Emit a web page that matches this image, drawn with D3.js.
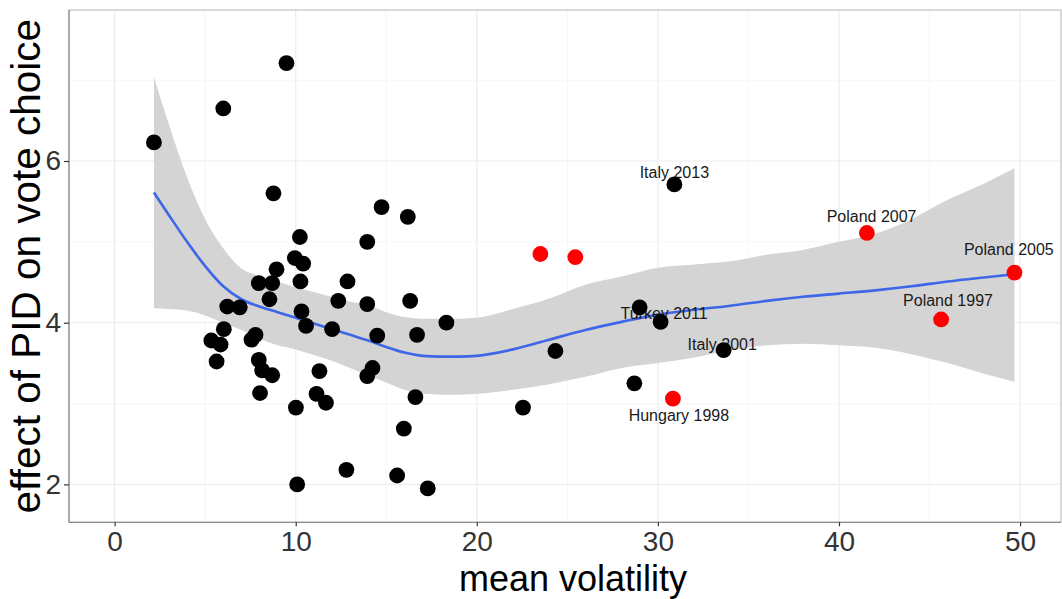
<!DOCTYPE html>
<html><head><meta charset="utf-8">
<script src="https://cdn.jsdelivr.net/npm/d3@7"></script>
<style>
body{margin:0;background:#fff}
svg{display:block}
text{font-family:"Liberation Sans",Arial,Helvetica,sans-serif}
</style>
</head><body>
<svg id="chart" width="1062" height="599"></svg>
<script>
// ---- data ----
const blackX = [2.17,6.00,9.49,8.77,14.74,16.19,10.23,13.95,9.95,10.41,8.94,7.96,8.70,10.26,12.86,8.55,12.35,13.95,16.32,6.22,6.91,10.32,10.57,12.01,18.32,6.03,14.50,16.70,7.78,7.56,5.34,5.85,5.63,7.96,8.15,8.70,11.31,14.24,13.95,8.03,11.15,11.67,10.01,16.61,15.97,12.80,15.60,10.08,17.29,30.91,28.99,30.15,24.34,33.63,28.70,22.55];
const blackY = [6.23,6.65,7.21,5.60,5.43,5.31,5.06,5.00,4.80,4.73,4.66,4.49,4.49,4.51,4.51,4.29,4.27,4.23,4.27,4.20,4.19,4.14,3.96,3.92,4.00,3.92,3.84,3.85,3.85,3.79,3.78,3.73,3.52,3.54,3.41,3.35,3.40,3.44,3.34,3.13,3.12,3.01,2.95,3.08,2.69,2.18,2.11,2.00,1.95,5.71,4.19,4.01,3.65,3.66,3.25,2.95];
const redX = [23.51,25.44,30.83,41.54,49.69,45.64];
const redY = [4.85,4.81,3.06,5.11,4.62,4.04];

const labelText = ["Italy 2013","Turkey 2011","Italy 2001","Hungary 1998","Poland 2007","Poland 2005","Poland 1997"];
const labelX = [30.91,30.34,33.55,31.16,41.80,49.38,46.02];
const labelY = [5.86,4.11,3.73,2.85,5.32,4.91,4.27];

const smoothX     = [2.17,3,4,5,6,7,8,9,10,11,12,13,14,15,16,17,18,19,20,22,24,26,28,30,32,34,36,38,40,42,44,46,48,49.69];
const smoothFit   = [5.61,5.33,5.00,4.70,4.45,4.29,4.20,4.13,4.06,3.99,3.92,3.85,3.78,3.70,3.63,3.59,3.58,3.58,3.59,3.67,3.79,3.91,4.01,4.10,4.16,4.21,4.27,4.32,4.36,4.40,4.45,4.51,4.56,4.60];
const smoothLower = [4.18,4.17,4.15,4.09,4.00,3.91,3.80,3.72,3.67,3.60,3.53,3.44,3.35,3.26,3.17,3.12,3.11,3.11,3.12,3.17,3.24,3.33,3.44,3.50,3.57,3.66,3.72,3.74,3.72,3.69,3.61,3.50,3.37,3.27];
const smoothUpper = [7.04,6.45,5.80,5.28,4.92,4.67,4.58,4.51,4.44,4.38,4.32,4.26,4.22,4.13,4.07,4.05,4.05,4.05,4.06,4.17,4.30,4.47,4.57,4.68,4.72,4.76,4.84,4.90,5.00,5.10,5.28,5.52,5.72,5.91];

const xTicks = [0,10,20,30,40,50];
const xMinor = [5,15,25,35,45];
const yTicks = [2,4,6];
const yMinor = [3,5,7];
const xTitle = "mean volatility";
const yTitle = "effect of PID on vote choice";

// ---- layout ----
const W = 1062, H = 599;
const m = {left:69, top:10, right:1, bottom:76.7};
const svg = d3.select("#chart");
const x = d3.scaleLinear().domain([-2.52, 52.26]).range([m.left, W - m.right]);
const y = d3.scaleLinear().domain([1.531, 7.868]).range([H - m.bottom, m.top]);

const g = svg.append("g");

// grid
g.selectAll(".xmin").data(xMinor).join("line")
  .attr("x1", d=>x(d)).attr("x2", d=>x(d)).attr("y1", m.top).attr("y2", H-m.bottom)
  .attr("stroke", "#f4f4f4").attr("stroke-width", 0.8);
g.selectAll(".ymin").data(yMinor).join("line")
  .attr("y1", d=>y(d)).attr("y2", d=>y(d)).attr("x1", m.left).attr("x2", W-m.right)
  .attr("stroke", "#f4f4f4").attr("stroke-width", 0.8);
g.selectAll(".xmaj").data(xTicks).join("line")
  .attr("x1", d=>x(d)).attr("x2", d=>x(d)).attr("y1", m.top).attr("y2", H-m.bottom)
  .attr("stroke", "#ececec").attr("stroke-width", 1.2);
g.selectAll(".ymaj").data(yTicks).join("line")
  .attr("y1", d=>y(d)).attr("y2", d=>y(d)).attr("x1", m.left).attr("x2", W-m.right)
  .attr("stroke", "#ececec").attr("stroke-width", 1.2);

// smooth band & line
const sm = smoothX.map((v,i)=>({x:v, fit:smoothFit[i], lo:smoothLower[i], hi:smoothUpper[i]}));
g.append("path").datum(sm)
  .attr("d", d3.area().x(d=>x(d.x)).y0(d=>y(d.lo)).y1(d=>y(d.hi)).curve(d3.curveMonotoneX))
  .attr("fill", "#d4d4d4");
g.append("path").datum(sm)
  .attr("d", d3.line().x(d=>x(d.x)).y(d=>y(d.fit)).curve(d3.curveMonotoneX))
  .attr("fill", "none").attr("stroke", "#3d66e8").attr("stroke-width", 2.6);

// labels
const labs = labelText.map((t,i)=>({t, x:labelX[i], y:labelY[i]}));
g.selectAll(".lab").data(labs).join("text")
  .attr("x", d=>x(d.x)).attr("y", d=>y(d.y)).attr("dy", "0.35em")
  .attr("text-anchor", "middle").attr("font-size", 16).attr("fill", "#1a1a1a")
  .text(d=>d.t);

// points
const blacks = blackX.map((v,i)=>({x:v, y:blackY[i]}));
const reds = redX.map((v,i)=>({x:v, y:redY[i]}));
g.selectAll(".pb").data(blacks).join("circle")
  .attr("cx", d=>x(d.x)).attr("cy", d=>y(d.y)).attr("r", 7.9).attr("fill", "#000");
g.selectAll(".pr").data(reds).join("circle")
  .attr("cx", d=>x(d.x)).attr("cy", d=>y(d.y)).attr("r", 7.9).attr("fill", "#ff0000");

// panel border
g.append("rect").attr("x", m.left).attr("y", m.top)
  .attr("width", W-m.left-m.right).attr("height", H-m.top-m.bottom)
  .attr("fill", "none").attr("stroke", "#b5b5b5").attr("stroke-width", 1);
g.append("line").attr("x1", m.left).attr("x2", W-m.right)
  .attr("y1", H-m.bottom).attr("y2", H-m.bottom).attr("stroke", "#8a8a8a").attr("stroke-width", 1.2);
g.append("line").attr("x1", m.left).attr("x2", m.left)
  .attr("y1", m.top).attr("y2", H-m.bottom).attr("stroke", "#8a8a8a").attr("stroke-width", 1.2);

// axes
const xAxis = d3.axisBottom(x).tickValues(xTicks).tickSize(4).tickPadding(5).tickFormat(d3.format("d"));
const gx = svg.append("g").attr("transform", `translate(0,${H-m.bottom})`).call(xAxis);
gx.select(".domain").remove();
gx.selectAll(".tick line").attr("stroke", "#333").attr("stroke-width", 1.2);
gx.selectAll(".tick text").attr("font-size", 28).attr("fill", "#333")
  .attr("font-family", "'Liberation Sans', Arial, sans-serif");

const yAxis = d3.axisLeft(y).tickValues(yTicks).tickSize(5).tickPadding(3).tickFormat(d3.format("d"));
const gy = svg.append("g").attr("transform", `translate(${m.left},0)`).call(yAxis);
gy.select(".domain").remove();
gy.selectAll(".tick line").attr("stroke", "#333").attr("stroke-width", 1.2);
gy.selectAll(".tick text").attr("font-size", 28).attr("fill", "#333")
  .attr("font-family", "'Liberation Sans', Arial, sans-serif");

// titles
svg.append("text").attr("x", (m.left + W - m.right)/2 + 8).attr("y", 591)
  .attr("text-anchor", "middle").attr("font-size", 36).attr("fill", "#000").text(xTitle);
svg.append("text").attr("transform", `translate(40,${(m.top + H - m.bottom)/2}) rotate(-90)`)
  .attr("text-anchor", "middle").attr("font-size", 40.5).attr("fill", "#000").text(yTitle);
</script>
</body></html>
